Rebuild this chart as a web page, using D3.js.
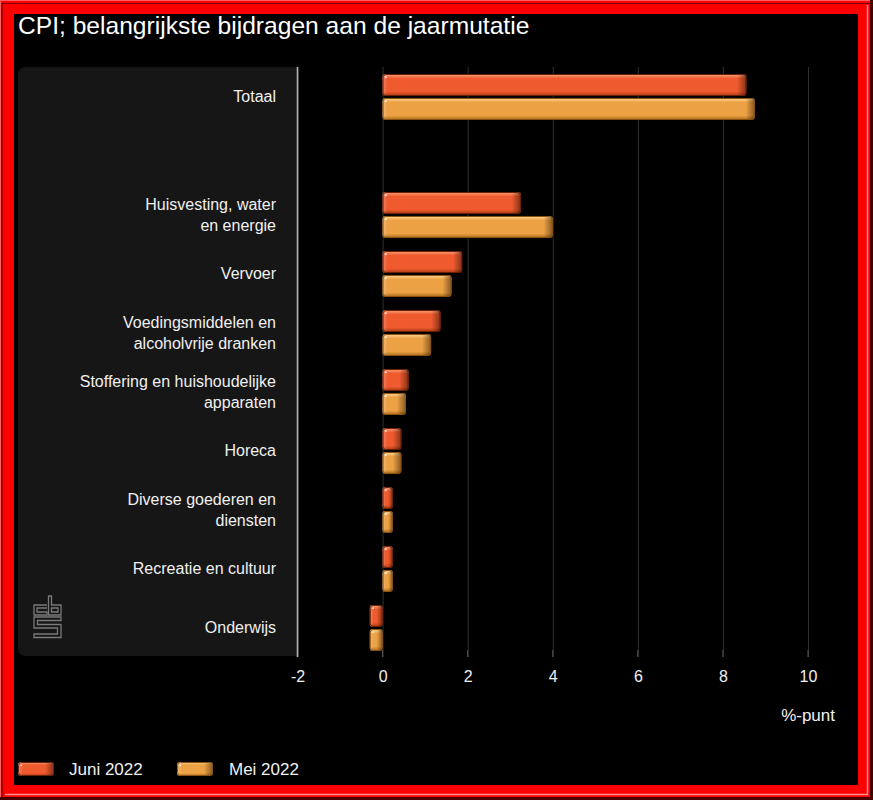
<!DOCTYPE html>
<html>
<head>
<meta charset="utf-8">
<script src="https://cdn.jsdelivr.net/npm/d3@7"></script>
<style>
  html, body { margin: 0; padding: 0; background: #000; }
  svg { display: block; }
  text { font-family: "Liberation Sans", Arial, sans-serif; }
</style>
</head>
<body>
<svg id="chart" width="873" height="800"></svg>
<script>
// ---- Data ----
const title = "CPI; belangrijkste bijdragen aan de jaarmutatie";
const categories = [
  "Totaal",
  "",
  "Huisvesting, water\nen energie",
  "Vervoer",
  "Voedingsmiddelen en\nalcoholvrije dranken",
  "Stoffering en huishoudelijke\napparaten",
  "Horeca",
  "Diverse goederen en\ndiensten",
  "Recreatie en cultuur",
  "Onderwijs"
];
const seriesNames = ["Juni 2022", "Mei 2022"];
const juni = [8.55, null, 3.25, 1.87, 1.36, 0.61, 0.44, 0.24, 0.24, -0.3];
const mei  = [8.75, null, 4.0, 1.62, 1.14, 0.55, 0.44, 0.24, 0.24, -0.3];
const xTicks = [-2, 0, 2, 4, 6, 8, 10];
const xUnit = "%-punt";

// ---- Setup ----
const svg = d3.select("#chart");
const W = 873, H = 800;
const defs = svg.append("defs");

const palette = {
  juni: { base: "#ef5a2e", hi: "#f98c64", lo: "#c0431a", edge: "#6a2208" },
  mei:  { base: "#eda145", hi: "#f8c67c", lo: "#bf7c26", edge: "#8a5210" }
};
Object.entries(palette).forEach(([k, c]) => {
  const g = defs.append("linearGradient").attr("id", "v-" + k)
    .attr("x1", 0).attr("y1", 0).attr("x2", 0).attr("y2", 1);
  [[0, c.lo], [0.07, c.hi], [0.2, c.base], [0.8, c.base], [0.93, c.lo], [1, c.edge]]
    .forEach(([o, col]) => g.append("stop").attr("offset", o).attr("stop-color", col));
});
const hs = defs.append("linearGradient").attr("id", "hshade")
  .attr("x1", 0).attr("y1", 0).attr("x2", 1).attr("y2", 0);
hs.append("stop").attr("offset", 0).attr("stop-color", "#000").attr("stop-opacity", 0);
hs.append("stop").attr("offset", 1).attr("stop-color", "#000").attr("stop-opacity", 0.45);
const hl = defs.append("linearGradient").attr("id", "hlight")
  .attr("x1", 0).attr("y1", 0).attr("x2", 1).attr("y2", 0);
hl.append("stop").attr("offset", 0).attr("stop-color", "#fff").attr("stop-opacity", 0.25);
hl.append("stop").attr("offset", 1).attr("stop-color", "#fff").attr("stop-opacity", 0);

// ---- Frame ----
svg.append("rect").attr("x", 0).attr("y", 0).attr("width", W).attr("height", H).attr("fill", "#ff0000");
svg.append("path").attr("d", `M2,${H - 3} V3.5 H${W - 3}`).attr("fill", "none").attr("stroke", "#7a0000").attr("stroke-width", 1.2);
svg.append("path").attr("d", `M0.5,${H} V0.5 H${W}`).attr("fill", "none").attr("stroke", "#ff6060").attr("stroke-width", 1);
svg.append("path").attr("d", `M5,${H - 5.5} H${W - 5.5} V5`).attr("fill", "none").attr("stroke", "#ff9090").attr("stroke-width", 1.5);
svg.append("path").attr("d", `M0,${H - 1.5} H${W - 1.5} V0`).attr("fill", "none").attr("stroke", "#4a0000").attr("stroke-width", 3);
svg.append("rect").attr("x", 14).attr("y", 14).attr("width", 844).attr("height", 771).attr("fill", "#000");

// ---- Title ----
svg.append("text").attr("x", 18).attr("y", 34).attr("fill", "#fff")
  .attr("font-size", 24.6).text(title);

// ---- Scales ----
const plotTop = 67, plotBottom = 657;
const x = d3.scaleLinear().domain([-2, 10]).range([297.5, 808]);
const y = d3.scaleBand().domain(d3.range(categories.length)).range([plotTop, plotBottom]).padding(0);
const ys = d3.scaleBand().domain(["juni", "mei"]).range([7, 53]).paddingInner(0.08);

// ---- Left panel ----
svg.append("path")
  .attr("d", `M${x(-2)},${plotTop} V${plotBottom - 1} H26 Q18,${plotBottom - 1} 18,${plotBottom - 9} V${plotTop + 8} Q18,${plotTop} 26,${plotTop} Z`)
  .attr("fill", "#161616");

// ---- Grid / axis ----
const axis = d3.axisBottom(x).tickValues(xTicks).tickFormat(d => String(d))
  .tickSize(-(plotBottom - plotTop)).tickPadding(14);
const gx = svg.append("g").attr("transform", `translate(0,${plotBottom})`).call(axis);
gx.select(".domain").remove();
gx.selectAll(".tick line").attr("stroke", "#2e2e2e").attr("stroke-width", 1);
gx.selectAll(".tick text").attr("fill", "#f0f0f0").attr("font-size", 16)
  .attr("font-family", '"Liberation Sans", Arial, sans-serif');
svg.append("g").selectAll("line").data(xTicks).join("line")
  .attr("x1", d => x(d)).attr("x2", d => x(d))
  .attr("y1", plotBottom - 7).attr("y2", plotBottom)
  .attr("stroke", "#555");
svg.append("line").attr("x1", x(-2)).attr("x2", x(-2))
  .attr("y1", plotTop).attr("y2", plotBottom)
  .attr("stroke", "#b0b0b0").attr("stroke-width", 1.6);

svg.append("text").attr("x", 835).attr("y", 721).attr("text-anchor", "end")
  .attr("fill", "#f0f0f0").attr("font-size", 17).text(xUnit);

// ---- Category labels ----
const lg = svg.append("g");
categories.forEach((c, i) => {
  if (!c) return;
  const lines = c.split("\n");
  const cy = y(i) + y.bandwidth() / 2;
  const lh = 21;
  const t = lg.append("text").attr("text-anchor", "end").attr("fill", "#f0f0f0").attr("font-size", 16);
  lines.forEach((ln, j) => {
    t.append("tspan").attr("x", 276)
      .attr("y", cy + 5.5 + (j - (lines.length - 1) / 2) * lh).text(ln);
  });
});

// ---- Glossy bar helper ----
function glossyBar(g, x0, y0, w, h, key) {
  const c = palette[key];
  const r = Math.min(3, w / 2);
  g.append("rect").attr("x", x0).attr("y", y0).attr("width", w).attr("height", h)
    .attr("rx", r).attr("fill", `url(#v-${key})`);
  const sw = Math.min(9, w * 0.45);
  g.append("rect").attr("x", x0 + w - sw).attr("y", y0).attr("width", sw).attr("height", h)
    .attr("rx", r).attr("fill", "url(#hshade)");
  const lw = Math.min(5, w * 0.3);
  g.append("rect").attr("x", x0).attr("y", y0).attr("width", lw).attr("height", h)
    .attr("rx", r).attr("fill", "url(#hlight)");
  g.append("rect").attr("x", x0 + 0.5).attr("y", y0 + 0.5).attr("width", Math.max(0, w - 1)).attr("height", h - 1)
    .attr("rx", r).attr("fill", "none").attr("stroke", c.edge).attr("stroke-width", 1);
  g.append("rect").attr("x", x0 + 2.5).attr("y", y0 + 2.5).attr("width", 1.6).attr("height", 1.6)
    .attr("fill", "#fff").attr("opacity", 0.85);
}

// ---- Bars ----
const bars = svg.append("g");
[["juni", juni], ["mei", mei]].forEach(([key, vals]) => {
  vals.forEach((v, i) => {
    if (v === null) return;
    const x0 = Math.min(x(0), x(v));
    const w = Math.abs(x(v) - x(0));
    glossyBar(bars, x0, y(i) + ys(key), w, ys.bandwidth(), key);
  });
});

// ---- Legend ----
const leg = svg.append("g");
[["juni", 18, 69], ["mei", 177, 229]].forEach(([key, sx, tx], i) => {
  glossyBar(leg, sx, 762, 36, 14, key);
  leg.append("text").attr("x", tx).attr("y", 775).attr("fill", "#f0f0f0")
    .attr("font-size", 17).text(seriesNames[i]);
});

// ---- CBS logo ----
const logo = svg.append("g").attr("fill", "none").attr("stroke", "#7a7a7a").attr("stroke-width", 1.3);
logo.append("path").attr("d", "M47,605 H34 V615 H47 V612 H37 V608 H47");
logo.append("path").attr("d", "M48.5,596 H51.5 V605 H61 V615 H48.5 Z M51.5,608 H58 V612 H51.5 Z");
logo.append("path").attr("d", "M34,617 H61 V620.5 H37.5 V624.5 H61 V637.5 H34 V634 H57.5 V628 H34 Z");
</script>
</body>
</html>
